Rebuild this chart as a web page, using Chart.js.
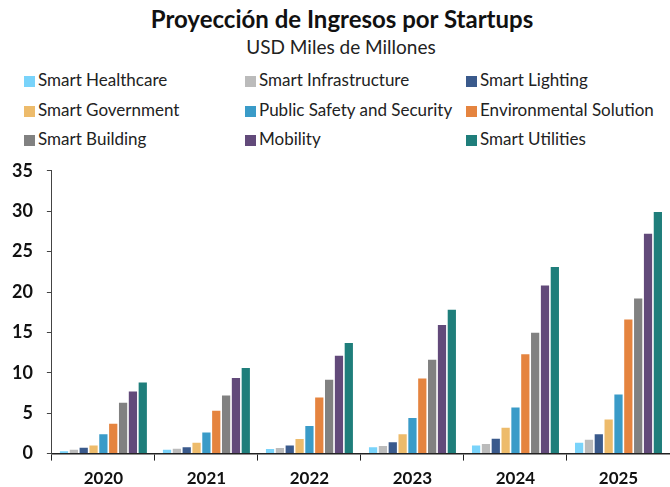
<!DOCTYPE html>
<html>
<head>
<meta charset="utf-8">
<script src="https://cdn.jsdelivr.net/npm/chart.js@4"></script>
<style>
  html, body { margin: 0; padding: 0; background: #fff; }
  body { width: 670px; height: 487px; position: relative; overflow: hidden; font-family: Lato, "Noto Sans", sans-serif; }
  #titulo { position: absolute; top: 4px; left: 0; width: 684px; text-align: center; font-weight: bold; font-size: 24px; color: #111; }
  #subtitulo { position: absolute; top: 35px; left: 0; width: 682px; text-align: center; font-size: 19px; color: #222; }
  #leyenda { position: absolute; top: 69px; left: 24px; width: 646px; }
  .item { position: absolute; font-size: 17px; color: #222; white-space: nowrap; line-height: 21px; }
  .item span { display: inline-block; width: 11px; height: 11px; margin-right: 3px; vertical-align: -1px; }
  #contenedor { position: absolute; top: 146px; left: 0; width: 670px; height: 351px; }
</style>
</head>
<body>
<div id="titulo">Proyección de Ingresos por Startups</div>
<div id="subtitulo">USD Miles de Millones</div>
<div id="leyenda"></div>
<div id="contenedor"><canvas id="graficoIngresos"></canvas></div>
<script>
const anios = ["2020", "2021", "2022", "2023", "2024", "2025"];
const series = ["Smart Healthcare", "Smart Infrastructure", "Smart Lighting",
  "Smart Government", "Public Safety and Security", "Environmental Solution",
  "Smart Building", "Mobility", "Smart Utilities"];
const colores = ["#79D3FA", "#BBBBBB", "#3A5A8C", "#EDBB6B", "#3A9BC8",
  "#E5843F", "#818181", "#624A7A", "#1F7E7B"];

const smartHealthcare = [0.4, 0.58, 0.66, 0.9, 1.1, 1.45];
const smartInfrastructure = [0.58, 0.7, 0.8, 1.03, 1.3, 1.8];
const smartLighting = [0.83, 0.9, 1.1, 1.5, 1.95, 2.5];
const smartGovernment = [1.1, 1.45, 1.9, 2.5, 3.3, 4.33];
const publicSafety = [2.5, 2.7, 3.5, 4.5, 5.8, 7.4];
const environmental = [3.8, 5.4, 7.05, 9.4, 12.4, 16.7];
const smartBuilding = [6.4, 7.3, 9.25, 11.7, 15.05, 19.3];
const mobility = [7.8, 9.45, 12.2, 16.0, 20.9, 27.3];
const smartUtilities = [8.9, 10.7, 13.8, 17.9, 23.2, 30.0];

const valores = [smartHealthcare, smartInfrastructure, smartLighting, smartGovernment,
  publicSafety, environmental, smartBuilding, mobility, smartUtilities];

const ticksY = [0, 5, 10, 15, 20, 25, 30, 35];

// Leyenda en tres columnas
const leyenda = document.getElementById("leyenda");
series.forEach((nombre, i) => {
  const div = document.createElement("div");
  div.className = "item";
  div.style.left = [0, 221, 442][i % 3] + "px";
  div.style.top = Math.floor(i / 3) * 29.5 + "px";
  div.innerHTML = `<span style="background:${colores[i]}"></span>${nombre}`;
  leyenda.appendChild(div);
});

new Chart(document.getElementById("graficoIngresos"), {
  type: "bar",
  data: {
    labels: anios,
    datasets: series.map((nombre, i) => ({
      label: nombre,
      data: valores[i],
      backgroundColor: colores[i],
      borderColor: "#ffffff",
      borderWidth: 0.8,
      barPercentage: 1,
      categoryPercentage: 0.86
    }))
  },
  options: {
    responsive: true,
    maintainAspectRatio: false,
    animation: false,
    layout: { padding: { top: 0, right: 0, left: -2, bottom: 0 } },
    plugins: {
      legend: { display: false },
      tooltip: { enabled: false }
    },
    scales: {
      x: {
        grid: { display: true, drawOnChartArea: false, drawTicks: true, tickLength: 7, color: "#222", offset: true },
        border: { display: true, color: "#222", width: 1.5 },
        ticks: { color: "#111", padding: 8, font: { family: "Lato, 'Noto Sans', sans-serif", size: 17, weight: "bold" } }
      },
      y: {
        min: 0,
        max: 35,
        afterBuildTicks: axis => { axis.ticks = ticksY.map(v => ({ value: v })); },
        grid: { display: true, drawOnChartArea: false, drawTicks: true, tickLength: 5, color: "#444" },
        border: { display: true, color: "#444", width: 1 },
        ticks: { color: "#111", padding: 14, font: { family: "Lato, 'Noto Sans', sans-serif", size: 18, weight: "bold" } }
      }
    }
  }
});
</script>
</body>
</html>
